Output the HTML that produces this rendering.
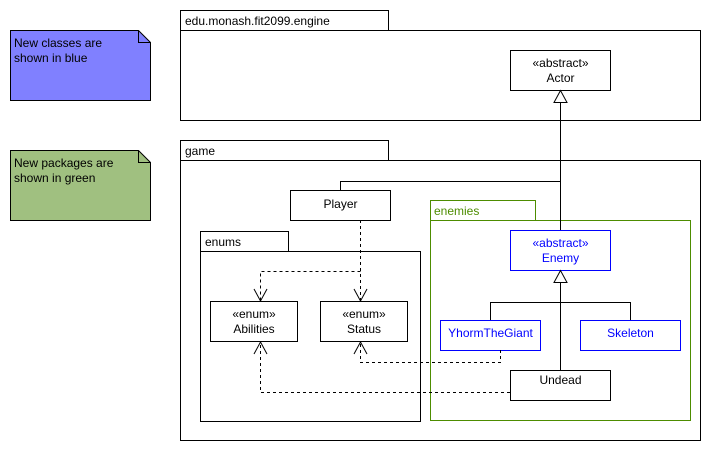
<!DOCTYPE html>
<html><head><meta charset="utf-8"><style>body{margin:0;background:#fff}svg{display:block}text{font-family:"Liberation Sans",Arial,sans-serif;font-size:12px}</style></head>
<body>
<svg width="710" height="450" viewBox="0 0 710 450" xmlns="http://www.w3.org/2000/svg">
<g stroke="#000" fill="none">
<path d="M10.5 30.5H138.5L150.5 42.5V100.5H10.5Z" fill="#8080ff"/><path d="M138.5 30.5V42.5H150.5"/>
<path d="M10.5 150.5H138.5L150.5 162.5V220.5H10.5Z" fill="#a0c080"/><path d="M138.5 150.5V162.5H150.5"/>
<rect x="180.5" y="10.5" width="208" height="20"/><rect x="180.5" y="30.5" width="520" height="90"/>
<rect x="180.5" y="140.5" width="208" height="20"/><rect x="180.5" y="160.5" width="520" height="280"/>
<rect x="200.5" y="231.5" width="88" height="20"/><rect x="200.5" y="251.5" width="220" height="170"/>
<rect x="510.5" y="50.5" width="100" height="40"/>
<rect x="290.5" y="190.5" width="100" height="30"/>
<rect x="210.5" y="301.5" width="87" height="40"/><rect x="320.5" y="301.5" width="87" height="40"/>
<rect x="510.5" y="370.5" width="100" height="30"/>
<g stroke="#4d8c00"><rect x="430.5" y="200.5" width="105" height="20"/><rect x="430.5" y="220.5" width="260" height="200"/></g>
<g stroke="#0000ff"><rect x="510.5" y="230.5" width="100" height="40"/><rect x="440.5" y="320.5" width="100" height="30"/><rect x="580.5" y="320.5" width="100" height="30"/></g>
<path d="M560.5 102V230M340.5 190V181.5H560.5M560.5 282V370M490.5 320V302.5H630.5V320"/>
<path d="M560.5 90.5L554 102.5H567Z M560.5 270.5L554 282.5H567Z" fill="#fff"/>
<g stroke-dasharray="3,3"><path d="M360.5 220V301M360.5 271.5H260.5V301M500.5 350V362.5H360.5V342M510 392.5H260.5V342"/></g>
<path d="M354 289L360.5 301L367 289M254 289L260.5 301L267 289M354 354L360.5 342L367 354M254 354L260.5 342L267 354"/>
</g>
<g fill="#000">
<text x="14" y="47">New classes are</text><text x="14" y="62">shown in blue</text>
<text x="14" y="167">New packages are</text><text x="14" y="182">shown in green</text>
<text x="185" y="25">edu.monash.fit2099.engine</text>
<text x="185" y="155">game</text>
<text x="205" y="246">enums</text>
<text x="560.5" y="67" text-anchor="middle" font-size="11">«abstract»</text><text x="560.5" y="82" text-anchor="middle">Actor</text>
<text x="340.5" y="208" text-anchor="middle">Player</text>
<text x="254" y="318" text-anchor="middle" font-size="11">«enum»</text><text x="254" y="333" text-anchor="middle">Abilities</text>
<text x="364" y="318" text-anchor="middle" font-size="11">«enum»</text><text x="364" y="333" text-anchor="middle">Status</text>
<text x="560.5" y="384" text-anchor="middle">Undead</text>
</g>
<text x="434" y="215" fill="#4d8c00">enemies</text>
<g fill="#0000ff">
<text x="560.5" y="247" text-anchor="middle" font-size="11">«abstract»</text><text x="560.5" y="262" text-anchor="middle">Enemy</text>
<text x="490.5" y="337" text-anchor="middle">YhormTheGiant</text>
<text x="630.5" y="337" text-anchor="middle">Skeleton</text>
</g>
</svg>
</body></html>
